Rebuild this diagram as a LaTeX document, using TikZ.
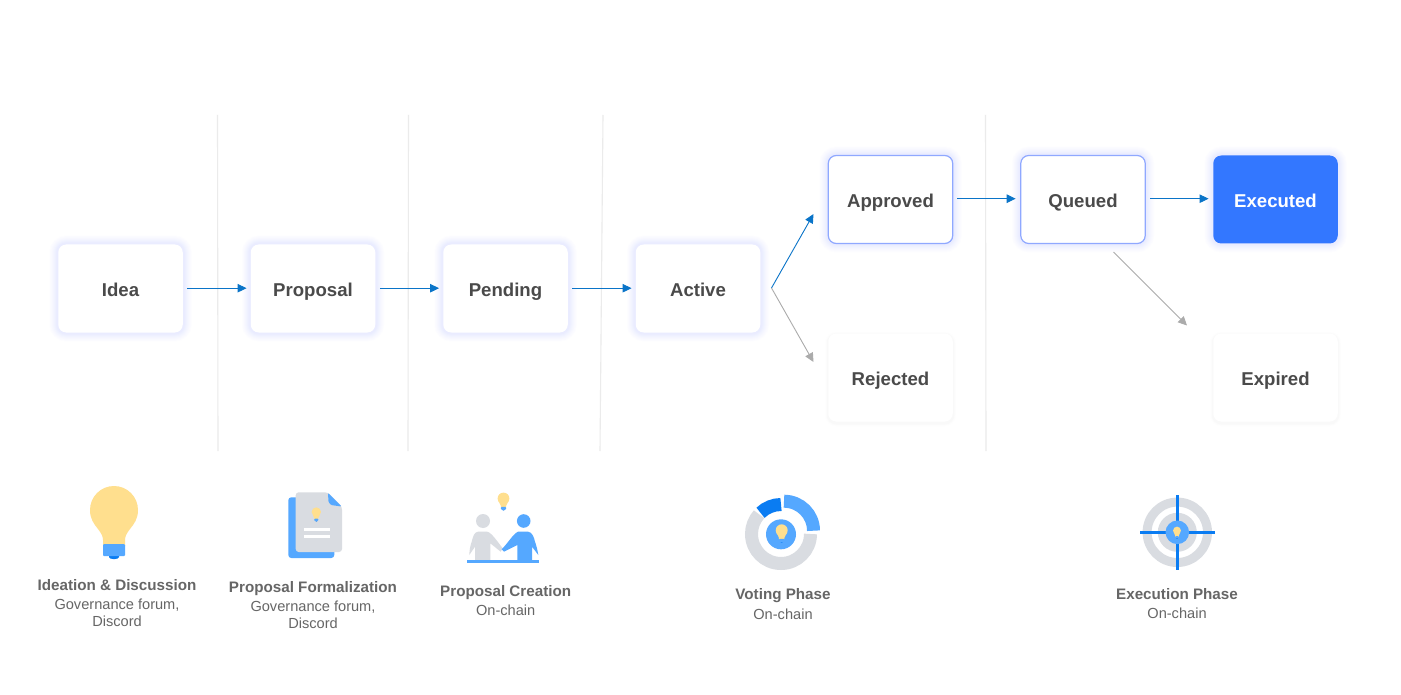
\documentclass[tikz,border=0pt]{standalone}
\usepackage{fontspec}
\setsansfont{Liberation Sans}
\usetikzlibrary{arrows.meta}
\definecolor{flowblue}{HTML}{0A74C8}
\definecolor{flowgray}{HTML}{ABABAB}
\definecolor{boxtext}{HTML}{4A4A4A}
\definecolor{captext}{HTML}{666666}
\definecolor{edgeblue}{HTML}{8FA8FF}
\definecolor{glowblue}{HTML}{5F7DFF}
\definecolor{doneblue}{HTML}{3377FF}
\definecolor{lineblue}{HTML}{55A8FF}
\definecolor{deepblue}{HTML}{0A7CF2}
\definecolor{paleyellow}{HTML}{FFDF8E}
\definecolor{palegray}{HTML}{D9DCE1}
\tikzset{
  softglow/.style={
    preaction={draw=#1,line width=18,opacity=.008},
    preaction={draw=#1,line width=16,opacity=.01},
    preaction={draw=#1,line width=14,opacity=.012},
    preaction={draw=#1,line width=12,opacity=.014},
    preaction={draw=#1,line width=10,opacity=.016},
    preaction={draw=#1,line width=8,opacity=.018},
    preaction={draw=#1,line width=6,opacity=.018},
    preaction={draw=#1,line width=4,opacity=.018}},
  statebox/.style={rectangle,rounded corners=8,minimum width=124.5,minimum height=88,
    fill=white,text=boxtext,font=\sffamily\bfseries\fontsize{18.6}{20}\selectfont,
    text height=16.5,text depth=0,inner sep=0pt},
  livebox/.style={statebox,softglow=glowblue},
  passbox/.style={livebox,draw=edgeblue,line width=1.2},
  donebox/.style={livebox,fill=doneblue,text=white},
  deadbox/.style={statebox,
    preaction={draw=black,line width=7,opacity=.005,transform canvas={yshift=-1.5pt}},
    preaction={draw=black,line width=5,opacity=.008,transform canvas={yshift=-1.5pt}},
    preaction={draw=black,line width=3,opacity=.012,transform canvas={yshift=-1.5pt}}},
  blueflow/.style={draw=flowblue,line width=.9,-{Triangle[length=9,width=8.5]}},
  grayflow/.style={draw=flowgray,line width=.9,-{Triangle[length=9,width=8.5]}},
  captitle/.style={anchor=base,inner sep=0pt,text=captext,font=\sffamily\bfseries\fontsize{15.2}{17}\selectfont},
  capsub/.style={anchor=base,inner sep=0pt,text=captext,font=\sffamily\fontsize{14.6}{17}\selectfont},
  bulb/.pic={
    \fill[paleyellow] (-11,36) -- (-11,30) .. controls (-11,26) and (-13,23) .. (-16,19)
      .. controls (-20,14) and (-24,9) .. (-24,0) arc (180:360:24)
      .. controls (24,9) and (20,14) .. (16,19) .. controls (13,23) and (11,26) .. (11,30)
      -- (11,36) -- cycle;
    \fill[deepblue] (-5,44) -- (5,44) -- (5,47) arc (0:180:5 and 2.2) -- cycle;
    \fill[lineblue,rounded corners=1] (-11,34) -- (11,34) -- (11,46) -- (-11,46) -- cycle;
  }
}
\begin{document}
\begin{tikzpicture}[x=1pt,y=-1pt,font=\sffamily]
\useasboundingbox (0,0) rectangle (1401,695);
\fill[white] (0,0) rectangle (1401,695);
%dividers
\foreach \xa/\xb in {217.5/218,408.5/408,603/600,985.5/986}
\draw[draw=black!8,line width=1.1] (\xa,115) -- (\xb,451);
%states
\foreach \x/\name/\txt in {120.5/idea/Idea,313/proposal/Proposal,505.5/pending/Pending,698/active/Active}
\node[livebox] (\name) at (\x,288.5) {\txt};
\node[passbox] (approved) at (890.5,199.5) {Approved};
\node[passbox] (queued) at (1083,199.5) {Queued};
\node[donebox] (executed) at (1275.5,199.5) {Executed};
\node[deadbox] (rejected) at (890.5,377.5) {Rejected};
\node[deadbox] (expired) at (1275.5,377.5) {Expired};
%connectors
\foreach \a/\b in {idea/proposal,proposal/pending,pending/active}
\draw[blueflow,shorten <=4.5,shorten >=4] ([yshift=.3pt]\a.east) -- ([yshift=.3pt]\b.west);
\foreach \a/\b in {approved/queued,queued/executed}
\draw[blueflow,shorten <=4,shorten >=4.5] ([yshift=.8pt]\a.east) -- ([yshift=.8pt]\b.west);
\coordinate (split) at (771.5,288);
\coordinate (approvedtip) at (813.5,214);
\coordinate (rejectedtip) at (813.5,362);
\coordinate (lapse) at (1113.5,252);
\coordinate (lapsetip) at (1187,325.5);
\draw[blueflow] (split) -- (approvedtip);
\draw[grayflow] (split) -- (rejectedtip);
\draw[grayflow] (lapse) -- (lapsetip);
%ideation icon
\pic at (114,510) {bulb};
\node[captitle] (ideationtitle) at (117,590) {Ideation \& Discussion};
\node[capsub] (ideationsub) at (117,609) {Governance forum,};
\node[capsub] (ideationsubb) at (117,626) {Discord};
%formalization icon
\fill[lineblue,rounded corners=3] (288.3,497.3) rectangle (334.3,558);
\fill[palegray,rounded corners=3] (295.7,492.3) -- (327.7,492.3) -- (342,506.7) -- (342,552) -- (295.7,552) -- cycle;
\fill[lineblue,rounded corners=1] (328,492.8) -- (341.5,506.5) -- (331,505) -- (328.5,502) -- cycle;
\fill[white] (304.3,527.8) rectangle (330,530.8);
\fill[white] (304.3,535.2) rectangle (330,538.2);
\pic[scale=.195] at (316.3,512) {bulb};
\node[captitle] (formaltitle) at (313,592) {Proposal Formalization};
\node[capsub] (formalsub) at (313,611.5) {Governance forum,};
\node[capsub] (formalsubb) at (313,628) {Discord};
%creation icon
\fill[palegray] (483,521) circle (7);
\fill[palegray] (475,560) -- (475,546.7) -- (469.3,555) .. controls (469.5,549) and (470.5,545) .. (471.7,541.7)
  .. controls (473,537) and (474,532) .. (478,531.7) -- (487,531.7) .. controls (491,532) and (497,541) .. (502.7,548.3)
  -- (500.7,551.7) -- (490.3,543.3) -- (490.3,560) -- cycle;
\fill[lineblue] (523.7,521) circle (6.8);
\fill[lineblue] (517.3,560) -- (517.3,545) -- (504,551.7) -- (501.7,549.3) .. controls (508,543) and (513,534) .. (518,531.7)
  -- (528,531.7) .. controls (532,532) and (534,537) .. (535,541.7) .. controls (536.5,546) and (537.5,550) .. (538.3,555)
  -- (532,546.7) -- (532,560) -- cycle;
\fill[lineblue] (467.3,560) rectangle (539.3,562.7);
\pic[scale=.245] at (503.5,498.5) {bulb};
\node[captitle] (creationtitle) at (505.7,596) {Proposal Creation};
\node[capsub] (creationsub) at (505.7,615.2) {On-chain};
%voting icon
\draw[palegray,line width=13] (781,534) ++(0:29.5) arc (0:222:29.5);
\draw[deepblue,line width=13] (781,534) ++(226:29.5) arc (226:270:29.5);
\draw[lineblue,line width=13] (784,530.7) ++(270:29.5) arc (270:360:29.5);
\fill[lineblue] (781,534.3) circle (15);
\pic[scale=.25] at (781.7,530.3) {bulb};
\node[captitle] (votingtitle) at (783,599.5) {Voting Phase};
\node[capsub] (votingsub) at (783,619.2) {On-chain};
%execution icon
\draw[palegray,line width=9] (1177.3,532.3) circle (30.2);
\fill[palegray] (1177.3,532.3) circle (19.5);
\draw[deepblue,line width=3] (1140,532.3) -- (1215,532.3);
\draw[deepblue,line width=3] (1177.3,495) -- (1177.3,570);
\fill[lineblue] (1177.3,532.3) circle (11.8);
\pic[scale=.165] at (1177,530.6) {bulb};
\node[captitle] (executiontitle) at (1177,599) {Execution Phase};
\node[capsub] (executionsub) at (1177,618) {On-chain};
\end{tikzpicture}
\end{document}
